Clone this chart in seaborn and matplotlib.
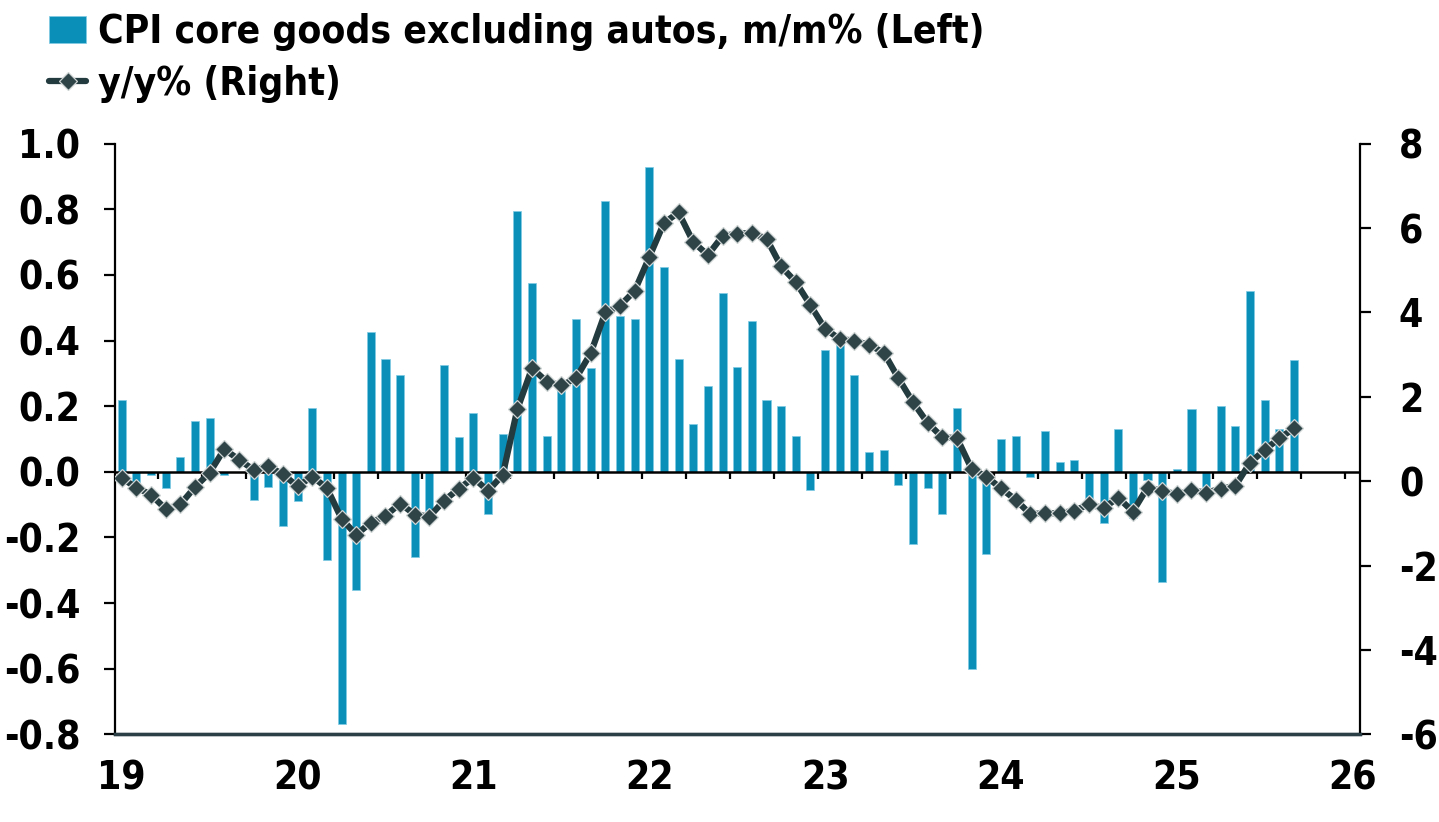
import seaborn as sns
from matplotlib import pyplot as plt
import matplotlib.font_manager as fm
import pandas as pd

sns.set_style("ticks")
plt.rcParams["font.family"] = ["DejaVu Sans"]
plt.rcParams["axes.unicode_minus"] = False

# monthly, Jan 2019 .. Sep 2025
mm = [0.22, -0.04, -0.01, -0.05, 0.045, 0.155, 0.165, -0.01, 0.0, -0.085,
      -0.045, -0.165, -0.09, 0.195, -0.27, -0.77, -0.36, 0.425, 0.345, 0.295,
      -0.26, -0.13, 0.325, 0.105, 0.18, -0.13, 0.115, 0.795, 0.575, 0.11,
      0.27, 0.465, 0.315, 0.825, 0.475, 0.465, 0.93, 0.625, 0.345, 0.145,
      0.26, 0.545, 0.32, 0.46, 0.22, 0.20, 0.11, -0.055, 0.37, 0.395,
      0.295, 0.06, 0.065, -0.04, -0.22, -0.05, -0.13, 0.195, -0.60, -0.25,
      0.10, 0.11, -0.015, 0.125, 0.03, 0.035, -0.09, -0.155, 0.13, -0.14,
      -0.025, -0.335, 0.01, 0.19, -0.045, 0.20, 0.14, 0.55, 0.22, 0.13,
      0.34]
yoy = [0.07, -0.15, -0.32, -0.66, -0.55, -0.14, 0.20, 0.76, 0.51, 0.27,
       0.36, 0.16, -0.12, 0.11, -0.16, -0.89, -1.27, -0.98, -0.82, -0.53,
       -0.79, -0.84, -0.46, -0.18, 0.08, -0.23, 0.15, 1.71, 2.68, 2.36,
       2.27, 2.44, 3.03, 4.00, 4.16, 4.51, 5.31, 6.12, 6.37, 5.67,
       5.36, 5.81, 5.87, 5.88, 5.75, 5.09, 4.72, 4.17, 3.61, 3.37,
       3.33, 3.23, 3.05, 2.44, 1.87, 1.38, 1.04, 1.02, 0.29, 0.11,
       -0.17, -0.44, -0.78, -0.76, -0.76, -0.70, -0.55, -0.64, -0.39, -0.72,
       -0.15, -0.23, -0.31, -0.22, -0.27, -0.18, -0.11, 0.44, 0.74, 1.02,
       1.25]
year_labels = ["19", "20", "21", "22", "23", "24", "25", "26"]
left_ticks = [-0.8, -0.6, -0.4, -0.2, 0.0, 0.2, 0.4, 0.6, 0.8, 1.0]
right_ticks = [-6, -4, -2, 0, 2, 4, 6, 8]

df = pd.DataFrame({"m": range(len(mm)), "mm": mm, "yoy": yoy})

bar_col = "#0a8fb8"
line_col = "#233b3e"

# condensed bold face if the system has it, else plain bold
cond = [f.fname for f in fm.fontManager.ttflist
        if "DejaVuSansCondensed-Bold.ttf" in f.fname]
if cond:
    tick_fp = fm.FontProperties(fname=cond[0], size=28)
    leg_fp = fm.FontProperties(fname=cond[0], size=28)
else:
    tick_fp = fm.FontProperties(family="DejaVu Sans", weight="bold", size=26)
    leg_fp = fm.FontProperties(family="DejaVu Sans", weight="bold", size=26)

fig = plt.figure(figsize=(14.39, 8.22), dpi=100)
ax = fig.add_axes([0.0799, 0.1067, 0.8652, 0.7185])

# quarter ticks hanging from the zero line
zl = ax.secondary_xaxis(0.8 / 1.8)
zl.set_xticks([3 * k - 0.5 for k in range(1, 29)])
zl.tick_params(axis="x", length=5, width=1.6, color="black", labelbottom=False,
               labeltop=False, direction="out")
for s in zl.spines.values():
    s.set_visible(False)

sns.barplot(data=df, x="m", y="mm", color=bar_col, saturation=1, width=0.55,
            edgecolor="#7fcbe3", linewidth=0.5, ax=ax,
            label="CPI core goods excluding autos, m/m% (Left)")
ax.axhline(0, color="black", lw=1.8, zorder=3)

ax2 = ax.twinx()
sns.lineplot(data=df, x="m", y="yoy", ax=ax2, color=line_col, lw=4.5,
             marker="D", markersize=9, markerfacecolor="#2e4447",
             markeredgecolor="#cfd4d4", markeredgewidth=0.9,
             label="y/y% (Right)")

ax.set_xlim(-0.46, 84.5)
ax.set_ylim(-0.8, 1.0)
ax2.set_ylim(-6, 8)
ax.set_xticks([12 * i for i in range(len(year_labels))])
ax.set_xticklabels(year_labels)
ax.set_yticks(left_ticks)
ax.set_yticklabels([f"{v:.1f}" for v in left_ticks])
ax2.set_yticks(right_ticks)
ax2.set_yticklabels([str(v) for v in right_ticks])
ax.set_xlabel("")
ax.set_ylabel("")
ax2.set_xlabel("")
ax2.set_ylabel("")

for a in (ax, ax2):
    a.spines["top"].set_visible(False)
    a.spines["left"].set_linewidth(1.6)
    a.spines["right"].set_linewidth(1.6)
    a.spines["left"].set_color("black")
    a.spines["right"].set_color("black")
    a.spines["bottom"].set_linewidth(2.4)
    a.spines["bottom"].set_color("#2b4046")
ax.spines["right"].set_visible(False)
ax2.spines["left"].set_visible(False)

ax.tick_params(axis="y", length=8, width=1.6, color="black", pad=17,
               labelcolor="black")
ax2.tick_params(axis="y", length=8, width=1.6, color="black", pad=20,
                labelcolor="black")
ax.tick_params(axis="x", length=0, pad=18, labelcolor="black")
for lab in ax.get_xticklabels() + ax.get_yticklabels() + ax2.get_yticklabels():
    lab.set_fontproperties(tick_fp)

h1 = ax.containers[0]
h2 = ax2.lines[0]
if ax2.get_legend() is not None:
    ax2.get_legend().remove()
if ax.get_legend() is not None:
    ax.get_legend().remove()
leg = fig.legend([h1, h2], ["CPI core goods excluding autos, m/m% (Left)", "y/y% (Right)"],
                 loc="upper left", bbox_to_anchor=(0.018, 1.012), frameon=False,
                 prop=leg_fp, handlelength=0.95, handleheight=0.7,
                 handletextpad=0.3, labelspacing=0.35, borderaxespad=0.2)
for t in leg.get_texts():
    t.set_color("black")

fig.savefig("out.png", dpi=100)
